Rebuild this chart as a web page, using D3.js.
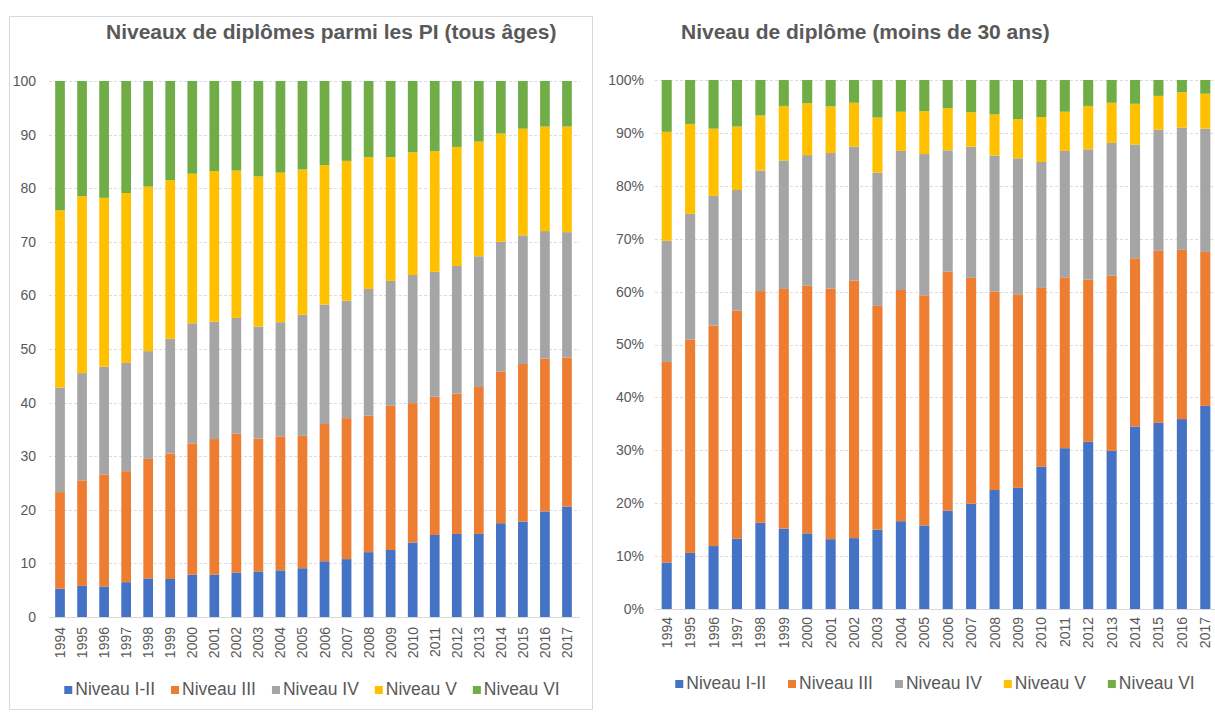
<!DOCTYPE html>
<html>
<head>
<meta charset="utf-8">
<script src="https://cdn.jsdelivr.net/npm/d3@7"></script>
<style>
  html, body { margin: 0; padding: 0; background: #fff; }
  svg { display: block; font-family: "Liberation Sans", Arial, sans-serif; }
</style>
</head>
<body>
<svg id="chart" width="1215" height="718"></svg>
<script>
// ---------- DATA ----------
const years = ["1994","1995","1996","1997","1998","1999","2000","2001","2002","2003","2004","2005",
               "2006","2007","2008","2009","2010","2011","2012","2013","2014","2015","2016","2017"];
const seriesNames = ["Niveau I-II", "Niveau III", "Niveau IV", "Niveau V", "Niveau VI"];

// Left chart: Niveaux de diplômes parmi les PI (tous âges)
const allAges_I_II = [5.3,5.8,5.7,6.5,7.2,7.1,7.9,7.9,8.3,8.5,8.7,9.1,10.4,10.8,12.1,12.5,13.9,15.3,15.5,15.5,17.5,17.8,19.7,20.6];
const allAges_III  = [18.0,19.7,20.9,20.7,22.3,23.4,24.5,25.3,25.9,24.8,25.0,24.7,25.6,26.3,25.5,26.9,26.0,25.8,26.2,27.4,28.3,29.4,28.5,27.8];
const allAges_IV   = [19.5,20.0,20.1,20.2,20.1,21.4,22.4,21.9,21.6,20.9,21.3,22.6,22.3,21.9,23.6,23.3,23.9,23.3,23.8,24.4,24.2,24.0,23.8,23.4];
const allAges_V    = [33.1,33.0,31.5,31.7,30.7,29.6,27.9,28.1,27.5,28.0,27.9,27.1,26.0,26.1,24.6,23.1,22.9,22.5,22.2,21.4,20.2,19.9,19.5,19.7];
const allAges_VI   = [24.1,21.5,21.8,20.9,19.7,18.5,17.3,16.8,16.7,17.8,17.1,16.5,15.7,14.9,14.2,14.2,13.3,13.1,12.3,11.3,9.8,8.9,8.5,8.5];
const leftTicks = [0,10,20,30,40,50,60,70,80,90,100];

// Right chart: Niveau de diplôme (moins de 30 ans), shares in %
const under30_I_II = [8.8,10.6,11.9,13.3,16.3,15.2,14.3,13.2,13.4,15.0,16.6,15.8,18.6,19.9,22.5,22.9,26.9,30.4,31.6,29.9,34.5,35.2,35.9,38.4];
const under30_III  = [37.9,40.3,41.7,43.1,43.8,45.3,46.8,47.4,48.7,42.3,43.7,43.5,45.2,42.7,37.5,36.6,33.8,32.3,30.7,33.1,31.8,32.5,32.0,29.1];
const under30_IV   = [22.9,23.8,24.5,22.8,22.8,24.3,24.7,25.6,25.3,25.2,26.3,26.7,22.9,24.8,25.7,25.7,23.8,23.9,24.6,25.1,21.5,22.9,23.1,23.3];
const under30_V    = [20.6,17.0,12.7,12.0,10.4,10.3,9.8,8.8,8.3,10.4,7.4,8.1,8.0,6.5,7.8,7.4,8.5,7.4,8.2,7.6,7.7,6.4,6.7,6.6];
const under30_VI   = [9.8,8.3,9.2,8.8,6.7,4.9,4.4,5.0,4.3,7.1,6.0,5.9,5.3,6.1,6.5,7.4,7.0,6.0,4.9,4.3,4.5,3.0,2.3,2.6];
const rightTicks = [0,10,20,30,40,50,60,70,80,90,100];

const colors = ["#4472C4", "#ED7D31", "#A5A5A5", "#FFC000", "#70AD47"];
const textColor = "#595959";

// ---------- DRAW ----------
const svg = d3.select("#chart");

// left panel frame
svg.append("rect").attr("x", 9.5).attr("y", 16.5).attr("width", 583).attr("height", 693)
  .attr("fill", "none").attr("stroke", "#d9d9d9").attr("stroke-width", 1);

function drawPanel(opt) {
  const g = svg.append("g");
  const rows = years.map((y, i) => {
    const r = { year: y };
    seriesNames.forEach((s, k) => r[s] = opt.series[k][i]);
    return r;
  });
  const stacked = d3.stack().keys(seriesNames)(rows);

  const x = d3.scaleBand().domain(years).range([opt.x0, opt.x1]).paddingInner(opt.pad).paddingOuter(opt.pad / 2);
  const y = d3.scaleLinear().domain([0, 100]).range([opt.y0, opt.y1]);

  // gridlines
  g.append("g").selectAll("line").data(opt.ticks.filter(t => t > 0)).join("line")
    .attr("x1", opt.x0).attr("x2", opt.gridEnd)
    .attr("y1", d => Math.round(y(d)) + 0.5).attr("y2", d => Math.round(y(d)) + 0.5)
    .attr("stroke", "#d9dce6").attr("stroke-width", 1).attr("stroke-dasharray", "3,2");

  // y axis labels
  const yAxis = d3.axisLeft(y).tickValues(opt.ticks).tickSize(0).tickPadding(0)
    .tickFormat(opt.fmt);
  const ya = g.append("g").attr("transform", `translate(${opt.labelRight},0)`).call(yAxis);
  ya.select(".domain").remove();
  ya.selectAll("text").attr("fill", textColor).style("font-size", "14px")
    .style("font-family", "'Liberation Sans', Arial, sans-serif");

  // bars
  g.append("g").selectAll("g").data(stacked).join("g")
    .attr("fill", (d, i) => colors[i])
    .selectAll("rect").data(d => d).join("rect")
    .attr("x", d => x(d.data.year))
    .attr("width", x.bandwidth())
    .attr("y", d => y(d[1]))
    .attr("height", d => y(d[0]) - y(d[1]));

  // baseline
  g.append("line").attr("x1", opt.x0).attr("x2", opt.gridEnd)
    .attr("y1", Math.round(y(0)) + 0.5).attr("y2", Math.round(y(0)) + 0.5)
    .attr("stroke", "#d9d9d9").attr("stroke-width", 1);

  // x axis labels (rotated)
  const xAxis = d3.axisBottom(x).tickSize(0).tickPadding(0);
  const xa = g.append("g").attr("transform", `translate(0,${opt.y0})`).call(xAxis);
  xa.select(".domain").remove();
  xa.selectAll("text")
    .attr("fill", textColor).style("font-size", "14px")
    .style("font-family", "'Liberation Sans', Arial, sans-serif")
    .attr("text-anchor", "end")
    .attr("dy", null).attr("y", 0)
    .attr("transform", `translate(5,${opt.xLabelGap}) rotate(-90)`);

  // title
  g.append("text").attr("x", opt.titleX).attr("y", 39)
    .attr("fill", textColor).style("font-size", "21px").style("font-weight", "bold")
    .text(opt.title);

  // legend
  const lg = g.append("g").attr("transform", `translate(0,${opt.legendY})`);
  let cx = 0;
  const items = [];
  seriesNames.forEach((s, i) => {
    const it = lg.append("g");
    it.append("rect").attr("x", 0).attr("y", -9).attr("width", 8).attr("height", 8).attr("fill", colors[i]);
    const t = it.append("text").attr("x", 11).attr("y", 0).attr("fill", textColor)
      .style("font-size", "17.5px").text(s);
    const w = 11 + t.node().getComputedTextLength();
    items.push({ it, cx });
    cx += w + opt.legendGap;
  });
  const total = cx - opt.legendGap;
  const start = opt.legendCenter - total / 2;
  items.forEach(d => d.it.attr("transform", `translate(${start + d.cx},0)`));
}

drawPanel({
  series: [allAges_I_II, allAges_III, allAges_IV, allAges_V, allAges_VI],
  ticks: leftTicks, fmt: d => d,
  x0: 49, x1: 578, gridEnd: 580, pad: 0.56,
  y0: 617, y1: 81, labelRight: 36,
  xLabelGap: 10,
  title: "Niveaux de diplômes parmi les PI (tous âges)", titleX: 106,
  legendY: 695, legendCenter: 312, legendGap: 16
});

drawPanel({
  series: [under30_I_II, under30_III, under30_IV, under30_V, under30_VI],
  ticks: rightTicks, fmt: d => d + "%",
  x0: 655, x1: 1217, gridEnd: 1215, pad: 0.57,
  y0: 609, y1: 80, labelRight: 644,
  xLabelGap: 8,
  title: "Niveau de diplôme (moins de 30 ans)", titleX: 681,
  legendY: 689, legendCenter: 935, legendGap: 22
});
</script>
</body>
</html>
